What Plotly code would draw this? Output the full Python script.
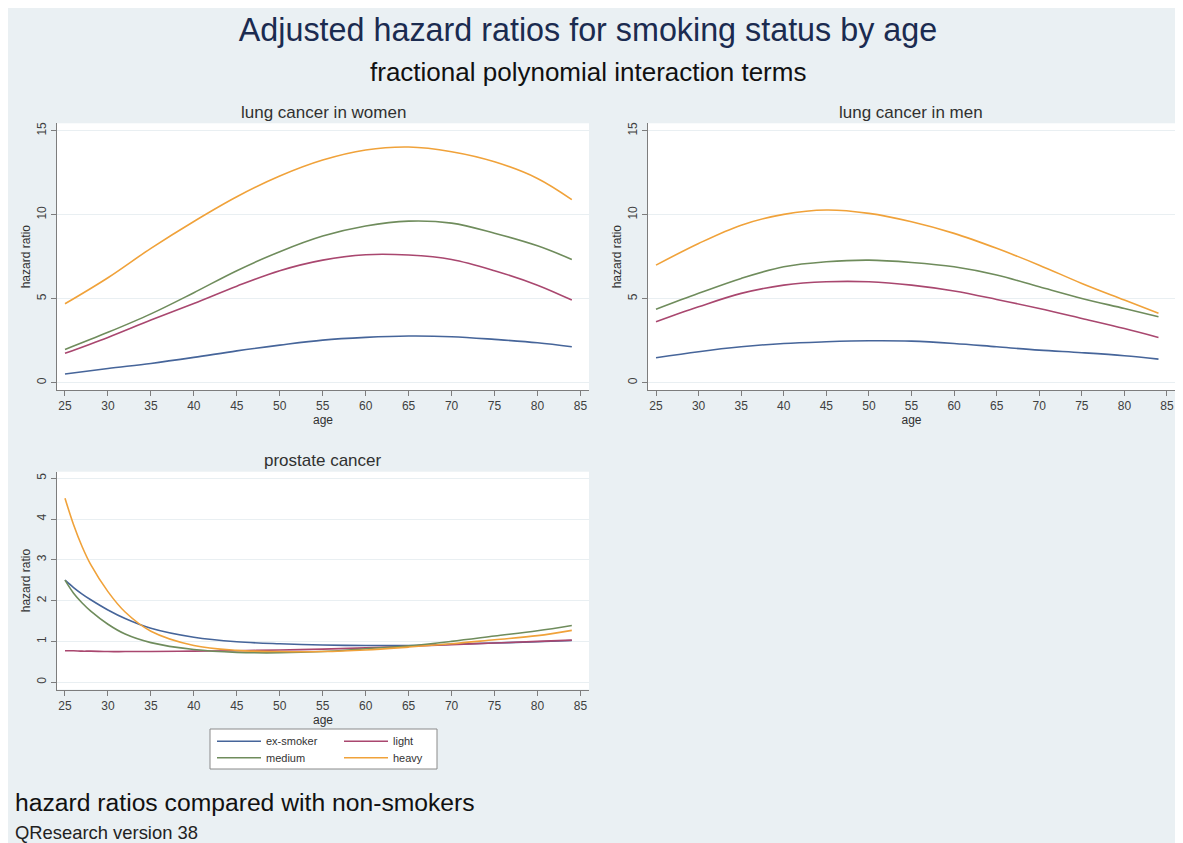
import plotly.graph_objects as go

# ---------------- data ----------------
series_names = ["ex-smoker", "light", "medium", "heavy"]
series_colors = ["#46659a", "#a9476f", "#6f8c5c", "#f0a23a"]

ages_lung = [25, 30, 35, 40, 45, 50, 55, 60, 65, 70, 75, 80, 84]

women_ex = [0.52, 0.85, 1.15, 1.51, 1.90, 2.24, 2.54, 2.70, 2.78, 2.74, 2.58, 2.38, 2.14]
women_light = [1.75, 2.70, 3.73, 4.72, 5.75, 6.67, 7.30, 7.62, 7.60, 7.34, 6.67, 5.81, 4.92]
women_medium = [1.98, 3.00, 4.10, 5.36, 6.67, 7.80, 8.73, 9.33, 9.62, 9.50, 8.90, 8.15, 7.34]
women_heavy = [4.70, 6.25, 8.00, 9.60, 11.07, 12.30, 13.25, 13.85, 14.03, 13.75, 13.15, 12.16, 10.90]

men_ex = [1.49, 1.85, 2.14, 2.34, 2.44, 2.50, 2.48, 2.34, 2.14, 1.94, 1.79, 1.61, 1.41]
men_light = [3.63, 4.52, 5.32, 5.81, 6.01, 6.01, 5.81, 5.46, 4.96, 4.42, 3.83, 3.23, 2.70]
men_medium = [4.37, 5.32, 6.21, 6.90, 7.20, 7.30, 7.16, 6.90, 6.41, 5.71, 5.02, 4.42, 3.93]
men_heavy = [7.00, 8.29, 9.38, 10.02, 10.28, 10.08, 9.58, 8.89, 8.00, 7.00, 5.91, 4.92, 4.13]

ages_prostate = [25, 26, 27, 28, 30, 32, 35, 40, 45, 50, 55, 60, 65, 70, 75, 80, 84]
prostate_ex = [2.50, 2.32, 2.16, 2.02, 1.77, 1.56, 1.32, 1.10, 0.99, 0.94, 0.91, 0.90, 0.90, 0.93, 0.96, 0.99, 1.02]
prostate_light = [0.77, 0.77, 0.76, 0.76, 0.75, 0.75, 0.75, 0.76, 0.77, 0.79, 0.81, 0.84, 0.88, 0.92, 0.96, 1.00, 1.03]
prostate_medium = [2.50, 2.18, 1.94, 1.74, 1.42, 1.18, 0.97, 0.80, 0.73, 0.72, 0.75, 0.82, 0.89, 1.00, 1.13, 1.26, 1.39]
prostate_heavy = [4.51, 3.86, 3.32, 2.88, 2.22, 1.72, 1.25, 0.90, 0.78, 0.75, 0.75, 0.79, 0.86, 0.94, 1.04, 1.14, 1.27]

x_ticks = list(range(25, 90, 5))
y_ticks_lung = [0, 5, 10, 15]
y_ticks_prostate = [0, 1, 2, 3, 4, 5]

panel_titles = ["lung cancer in women", "lung cancer in men", "prostate cancer"]
main_title = "Adjusted hazard ratios for smoking status by age"
sub_title = "fractional polynomial interaction terms"
note_text = "hazard ratios compared with non-smokers"
caption_text = "QResearch version 38"

# ---------------- layout helpers ----------------
W, H = 1167, 835          # page body margin of 8px puts the figure at (8, 8)
OFF = 8
FONT = "Liberation Sans, Arial, Helvetica, sans-serif"


def fx(p):  # screen pixel -> paper fraction
    return (p - OFF) / W


def fy(p):
    return 1 - (p - OFF) / H


fig = go.Figure()

panels = [
    ("x", "y", ages_lung, [women_ex, women_light, women_medium, women_heavy]),
    ("x2", "y2", ages_lung, [men_ex, men_light, men_medium, men_heavy]),
    ("x3", "y3", ages_prostate, [prostate_ex, prostate_light, prostate_medium, prostate_heavy]),
]

legend_of = ["legend", "legend", "legend2", "legend2"]

for pi, (xa, ya, ages, sets) in enumerate(panels):
    for si, vals in enumerate(sets):
        fig.add_trace(go.Scatter(
            x=ages, y=vals, mode="lines", name=series_names[si],
            line=dict(color=series_colors[si], width=1.6, shape="spline", smoothing=1.0),
            xaxis=xa, yaxis=ya,
            showlegend=(pi == 2), legend=legend_of[si],
            legendgroup=series_names[si], hoverinfo="x+y+name",
        ))

axis_line = "#7d7d7d"
tick_font = dict(family=FONT, size=12, color="#404040")
title_font = dict(family=FONT, size=12, color="#303030")


def xaxis(domain, anchor, rng):
    return dict(domain=domain, anchor=anchor, range=rng,
                tickmode="array", tickvals=x_ticks, ticks="outside", ticklen=5,
                tickcolor=axis_line, showline=True, linecolor=axis_line, linewidth=1,
                showgrid=False, zeroline=False, tickfont=tick_font,
                ticklabeloverflow="allow",
                title=dict(text="age", font=title_font, standoff=1))


def yaxis(domain, anchor, rng, tickvals):
    return dict(domain=domain, anchor=anchor, range=rng,
                tickmode="array", tickvals=tickvals, ticks="outside", ticklen=5,
                tickcolor=axis_line, showline=True, linecolor=axis_line, linewidth=1,
                showgrid=True, gridcolor="#e9eff2", gridwidth=1, zeroline=False,
                tickangle=-90, tickfont=tick_font,
                title=dict(text="hazard ratio", font=title_font, standoff=1))


left_dom = [fx(57), fx(589)]
right_dom = [fx(648), 1.0]
top_dom = [fy(390), fy(123.3)]
bot_dom = [fy(689.5), fy(471.7)]

legend_font = dict(family=FONT, size=11, color="#333333")

fig.update_layout(
    width=W, height=H, autosize=False,
    margin=dict(l=0, r=0, t=0, b=0),
    paper_bgcolor="#eaf0f3", plot_bgcolor="#ffffff",
    font=dict(family=FONT, color="#222222"),
    xaxis=xaxis(left_dom, "y", [24.07, 86.0]),
    yaxis=yaxis(top_dom, "x", [-0.43, 15.44], y_ticks_lung),
    xaxis2=xaxis(right_dom, "y2", [24.06, 85.94]),
    yaxis2=yaxis(top_dom, "x2", [-0.43, 15.44], y_ticks_lung),
    xaxis3=xaxis(left_dom, "y3", [24.07, 86.0]),
    yaxis3=yaxis(bot_dom, "x3", [-0.18, 5.16], y_ticks_prostate),
    title=dict(text=main_title, x=fx(588), xanchor="center", y=fy(30), yanchor="middle",
               font=dict(family=FONT, size=32.3, color="#1b2b50")),
    legend=dict(orientation="h", x=fx(212), xanchor="left", y=fy(726.7), yanchor="top",
                bgcolor="rgba(0,0,0,0)", borderwidth=0, entrywidth=68, itemwidth=44,
                font=legend_font, itemclick=False),
    legend2=dict(orientation="h", x=fx(212), xanchor="left", y=fy(743.3), yanchor="top",
                 bgcolor="rgba(0,0,0,0)", borderwidth=0, entrywidth=68, itemwidth=44,
                 font=legend_font, itemclick=False),
    showlegend=True,
)

# legend box
fig.add_shape(type="rect", xref="paper", yref="paper", x0=fx(210), x1=fx(437),
              y0=fy(769), y1=fy(729), fillcolor="#ffffff",
              line=dict(color="#8a8a8a", width=1), layer="below")

annots = [
    (sub_title, 588, 72, 26, "center", "#111111"),
    (panel_titles[0], 323, 112.7, 17, "center", "#303030"),
    (panel_titles[1], 911, 112.7, 17, "center", "#303030"),
    (panel_titles[2], 323, 460.7, 17, "center", "#303030"),
    (note_text, 13, 802.7, 24.7, "left", "#111111"),
    (caption_text, 13, 832.0, 18.4, "left", "#222222"),
]
for text, x, y, size, anchor, color in annots:
    fig.add_annotation(text=text, xref="paper", yref="paper", x=fx(x), y=fy(y),
                       xanchor=anchor, yanchor="middle", showarrow=False,
                       font=dict(family=FONT, size=size, color=color))

fig.write_html("out.html")
